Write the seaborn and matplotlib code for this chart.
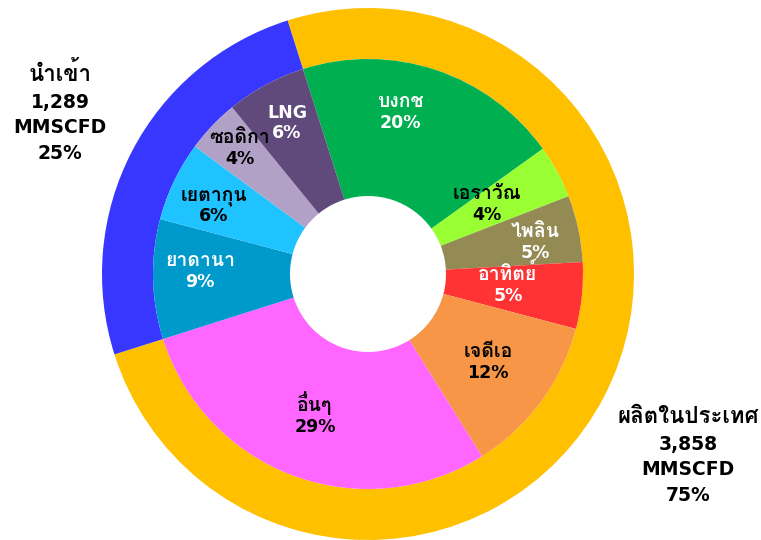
import matplotlib
matplotlib.use("Agg")
import matplotlib.pyplot as plt
import matplotlib.patheffects as pe
import seaborn as sns
from matplotlib import font_manager

# ---------------- data ----------------
outer_labels = ["ผลิตในประเทศ", "นำเข้า"]
outer_volume = ["3,858", "1,289"]
outer_pct = [75, 25]

inner_labels = ["บงกช", "เอราวัณ", "ไพลิน", "อาทิตย์", "เจดีเอ", "อื่นๆ",
                "ยาดานา", "เยตากุน", "ซอดิกา", "LNG"]
inner_pct = [20, 4, 5, 5, 12, 29, 9, 6, 4, 6]

outer_colors = ["#FFC000", "#3737FF"]
inner_colors = ["#00B050", "#99FF33", "#948A54", "#FF3333", "#F79646",
                "#FF66FF", "#0099CC", "#1EC3FF", "#B2A1C7", "#604A7B"]
inner_text_colors = ["white", "black", "white", "white", "black", "black",
                     "white", "black", "black", "white"]

# ---------------- fonts ----------------
sns.set_theme(style="white")


def find_thai_family():
    try:
        from fontTools.ttLib import TTFont
    except Exception:
        return None, False
    fams = {}
    for f in font_manager.fontManager.ttflist:
        try:
            tt = TTFont(f.fname, fontNumber=0, lazy=True)
            cmap = tt.getBestCmap()
            if cmap and 0x0E01 in cmap and 0x0E33 in cmap:
                w = f.weight if isinstance(f.weight, int) else 400
                fams.setdefault(f.name, set()).add(w)
        except Exception:
            continue
    if not fams:
        return None, False
    bold_fams = [n for n, ws in fams.items() if max(ws) >= 600]
    for want in ["Tahoma", "Noto Sans Thai", "Noto Sans Thai UI", "Loma", "Garuda", "Sarabun"]:
        if want in bold_fams:
            return want, True
    if bold_fams:
        return bold_fams[0], True
    for want in ["Noto Sans Thai", "Loma", "Garuda"]:
        if want in fams:
            return want, False
    return list(fams)[0], False


thai, thai_has_bold = find_thai_family()
families = ["DejaVu Sans"] + ([thai] if thai else [])
plt.rcParams["font.family"] = families


def is_thai(s):
    return any(0x0E00 <= ord(ch) <= 0x0E7F for ch in s)


# ---------------- figure ----------------
W, H = 761, 540
fig = plt.figure(figsize=(W / 100, H / 100), dpi=100)
ax = fig.add_axes([0, 0, 1, 1])
ax.set_aspect("equal")
ax.axis("off")

cx, cy = 368, H - 274
r_out, r_in, r_hole = 266, 215, 78
start = 107.6

ax.pie(outer_pct, colors=outer_colors, radius=r_out, center=(cx, cy),
       startangle=start, counterclock=False,
       wedgeprops=dict(width=r_out - r_in, linewidth=0, antialiased=True))
ax.pie(inner_pct, colors=inner_colors, radius=r_in, center=(cx, cy),
       startangle=start, counterclock=False,
       wedgeprops=dict(width=r_in - r_hole, linewidth=0, antialiased=True))
ax.set_xlim(0, W)
ax.set_ylim(0, H)


def line(x, y, s, color, size, thai_extra=1.5):
    """Place one text line so that its main body is centred on image-y = y."""
    kw = dict(ha="center", color=color, fontweight="bold", va="baseline")
    if is_thai(s):
        fs = size + thai_extra
        kw["fontsize"] = fs
        if not thai_has_bold:
            kw["path_effects"] = [pe.withStroke(linewidth=0.9, foreground=color)]
        xh = 0.52 * fs * 100 / 72
        ax.text(x, H - (y + xh / 2), s, **kw)
    else:
        kw["fontsize"] = size
        ch = 0.73 * size * 100 / 72
        ax.text(x, H - (y + ch / 2), s, **kw)


# inner labels (pixel positions of label centres in the image)
inner_pos = [(400, 112), (487, 204), (535, 242), (508, 285), (488, 362),
             (315, 416), (200, 271), (214, 205), (240, 148), (287, 122)]
for lab, p, (x, y), c in zip(inner_labels, inner_pct, inner_pos, inner_text_colors):
    line(x, y - 10, lab, c, 12.5)
    line(x, y + 10, f"{p}%", c, 12.5)

# outer labels
outer_pos = [(688, 417), (60, 75)]
for lab, vol, p, (x, y) in zip(outer_labels, outer_volume, outer_pct, outer_pos):
    for i, s in enumerate([lab, vol, "MMSCFD", f"{p}%"]):
        line(x, y + 25.8 * i, s, "black", 13.5, thai_extra=2.5)

fig.savefig("out.png", dpi=100, facecolor="white")
